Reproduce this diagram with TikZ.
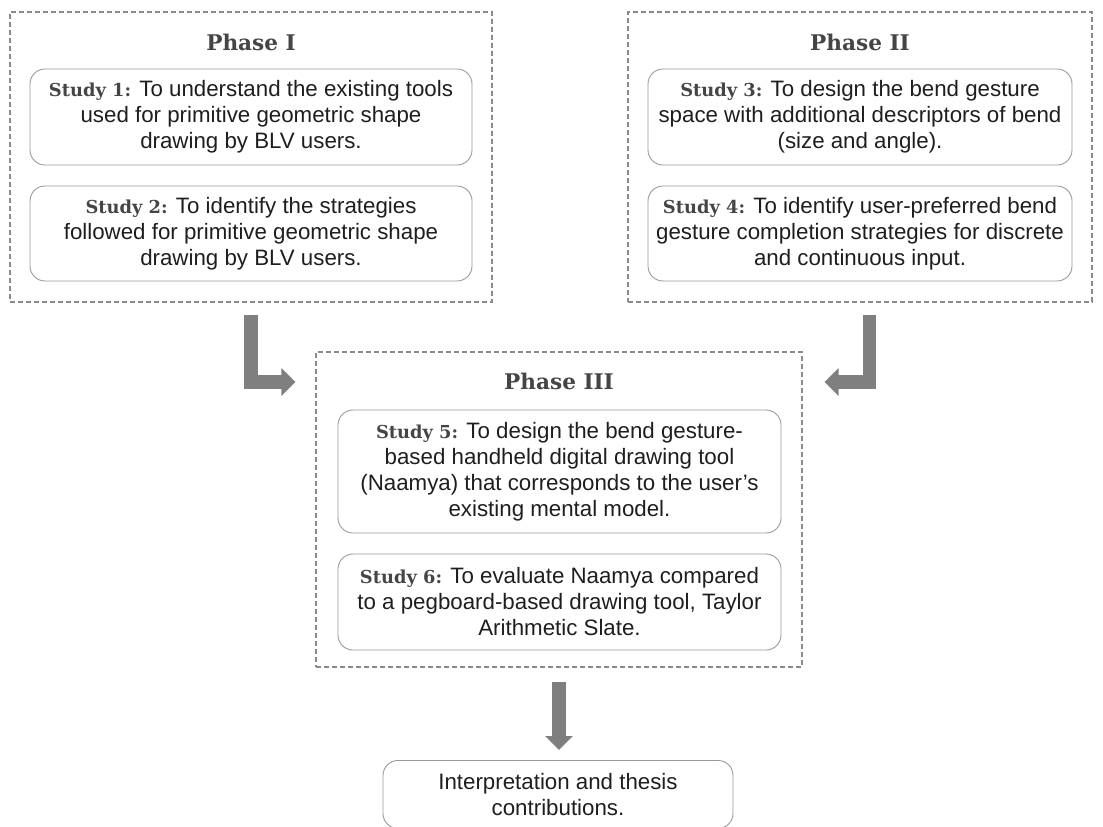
\documentclass[tikz,border=0pt]{standalone}
\usepackage{fontspec}
\setmainfont{Liberation Sans}
\newfontfamily\slab[Scale=0.8]{DejaVu Serif}
\usetikzlibrary{arrows.meta,positioning}
\definecolor{framegray}{HTML}{8A8A8A}
\definecolor{boxgray}{HTML}{9A9A9A}
\definecolor{arrowgray}{HTML}{7F7F7F}
\definecolor{headgray}{HTML}{454545}
\definecolor{textdark}{HTML}{1E1E1E}
\tikzset{
  phaseframe/.style={draw=framegray,dashed,line width=1.3pt,dash pattern=on 5pt off 3pt},
  studybox/.style={draw=boxgray,line width=0.9pt,rounded corners=15pt,align=center,text=textdark,
    font=\fontsize{22.3}{26}\selectfont,inner sep=0pt},
  phasetitle/.style={text=headgray,font=\slab\bfseries\fontsize{27}{30}\selectfont},
  bigarrow/.style={draw=arrowgray,line width=13.5pt,line join=miter,-{Triangle[width=27pt,length=14pt]}}
}
\newcommand{\studylbl}[1]{{\slab\bfseries\color{headgray}#1}}
\begin{document}
\begin{tikzpicture}[x=1pt,y=-1pt]
\useasboundingbox (0,0) rectangle (1103,827);
\node[phaseframe,minimum width=482pt,minimum height=290pt] (p1) at (251,157) {};
\node[phasetitle] (t1) at (251,42) {Phase I};
\node[studybox,minimum width=442pt,minimum height=96pt] (s1) at (251,117) {\studylbl{Study 1:} To understand the existing tools\\used for primitive geometric shape\\drawing by BLV users.};
\node[studybox,minimum width=442pt,minimum height=95pt] (s2) at (251,233.5) {\studylbl{Study 2:} To identify the strategies\\followed for primitive geometric shape\\drawing by BLV users.};
\node[phaseframe,minimum width=464pt,minimum height=290pt] (p2) at (860,157) {};
\node[phasetitle] (t2) at (860,42) {Phase II};
\node[studybox,minimum width=424pt,minimum height=96pt] (s3) at (860,117) {\studylbl{Study 3:} To design the bend gesture\\space with additional descriptors of bend\\(size and angle).};
\node[studybox,minimum width=424pt,minimum height=95pt] (s4) at (860,233.5) {\studylbl{Study 4:} To identify user-preferred bend\\gesture completion strategies for discrete\\and continuous input.};
\node[phaseframe,minimum width=486pt,minimum height=315pt] (p3) at (559,509.5) {};
\node[phasetitle] (t3) at (559,381) {Phase III};
\node[studybox,minimum width=443pt,minimum height=123pt] (s5) at (559.5,471.5) {\studylbl{Study 5:} To design the bend gesture-\\based handheld digital drawing tool\\(Naamya) that corresponds to the user's\\existing mental model.};
\node[studybox,minimum width=443pt,minimum height=96pt] (s6) at (559.5,602) {\studylbl{Study 6:} To evaluate Naamya compared\\to a pegboard-based drawing tool, Taylor\\Arithmetic Slate.};
\node[studybox,minimum width=350pt,minimum height=68pt,anchor=north] (fin) at (558,760) {Interpretation and thesis\\contributions.};
\draw[bigarrow] ([yshift=-12pt]p1.south) |- ([xshift=-20pt,yshift=127.5pt]p3.west);
\draw[bigarrow] ([xshift=9.5pt,yshift=-12pt]p2.south) |- ([xshift=22pt,yshift=127.5pt]p3.east);
\draw[bigarrow] ([yshift=-14pt]p3.south) -- ([yshift=10pt]p3.south |- fin.north);
\end{tikzpicture}
\end{document}
